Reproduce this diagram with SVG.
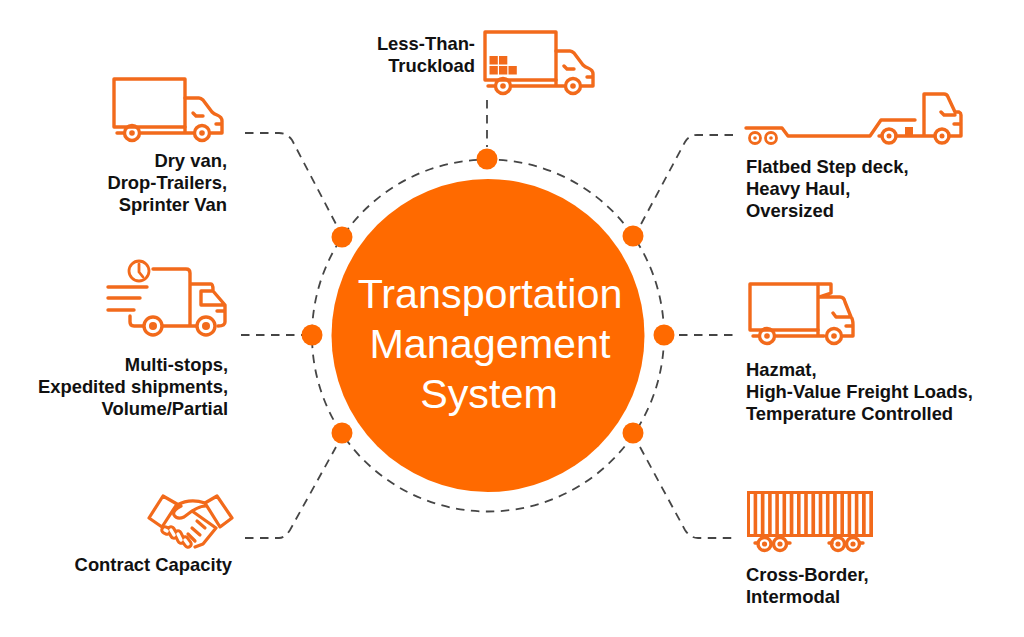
<svg xmlns="http://www.w3.org/2000/svg" xmlns:xlink="http://www.w3.org/1999/xlink" width="1024" height="637" viewBox="0 0 1024 637">
<style>
.o{fill:none;stroke:#f26a1b;stroke-width:3.400;stroke-linejoin:round;stroke-linecap:round}
.ot{fill:none;stroke:#f26a1b;stroke-width:2.800;stroke-linejoin:round;stroke-linecap:round}
.hs{fill:none;stroke:#f26a1b;stroke-width:3.200;stroke-linejoin:round;stroke-linecap:round}
.cap{fill:none;stroke:#f26a1b;stroke-width:9.500;stroke-linecap:round}
.capw{fill:none;stroke:#fff;stroke-width:3.400;stroke-linecap:round}
.f{fill:#ff6a00}
.fi{fill:#f26a1b}
.w{fill:#fff}
.d{fill:none;stroke:#454545;stroke-width:1.800;stroke-dasharray:8.500 6.500}
.t{font-family:"Liberation Sans",Arial,sans-serif;font-weight:700;font-size:18.400px;fill:#111}
.r{text-anchor:end}
.c{font-family:"Liberation Sans",Arial,sans-serif;font-size:41.300px;fill:#fff;text-anchor:middle}
</style>
<defs>
<g id="truck">
<path class="o" d="M114 79H185V127H114Z"/>
<path class="o" d="M117 133H123M141 133H193M185 127V133M185 98H199Q201 98 203 100L212 112Q214 114 217 115Q222 117 222 121V133H211M222 124H216M193 113L196 116H203"/>
<circle class="o" cx="132" cy="133" r="7.500"/><circle class="o" cx="202" cy="133" r="7.500"/>
<circle class="fi" cx="132" cy="133" r="2.800"/><circle class="fi" cx="202" cy="133" r="2.800"/>
</g>
</defs>
<rect width="1024" height="637" fill="#fff"/>
<g id="connectors">
<circle class="d" cx="488" cy="335.500" r="176"/>
<path class="d" d="M245 133H279Q287 133 292 140L337 226"/>
<path class="d" d="M487 100V147"/>
<path class="d" d="M733 135H697Q689 135 685 142L640 226"/>
<path class="d" d="M241 335H302"/>
<path class="d" d="M679 335H737"/>
<path class="d" d="M245 538H279Q285 538 290 530L336 447"/>
<path class="d" d="M640 447L685 530Q690 538 698 538H735"/>
</g>
<g id="hub">
<circle class="f" cx="488" cy="335.500" r="156.500"/>
<text class="c"><tspan x="490" y="308">Transportation</tspan><tspan x="490" y="358">Management</tspan><tspan x="489" y="408">System</tspan></text>
</g>
<g id="dots">
<circle class="f" cx="487" cy="159" r="10.500"/>
<circle class="f" cx="342" cy="237" r="10.500"/>
<circle class="f" cx="633" cy="236" r="10.500"/>
<circle class="f" cx="312" cy="335" r="10.500"/>
<circle class="f" cx="664" cy="335" r="10.500"/>
<circle class="f" cx="342" cy="433" r="10.500"/>
<circle class="f" cx="633" cy="433" r="10.500"/>
</g>
<g id="node-dry-van">
<use xlink:href="#truck" href="#truck"/>
<text class="t r"><tspan x="227" y="167">Dry van,</tspan><tspan x="227" y="189">Drop-Trailers,</tspan><tspan x="227" y="211">Sprinter Van</tspan></text>
</g>
<g id="node-ltl">
<use xlink:href="#truck" href="#truck" transform="translate(371 -47)"/>
<g class="fi"><rect x="489.500" y="56" width="8.300" height="8.500"/><rect x="499" y="56" width="8.300" height="8.500"/><rect x="489.500" y="66" width="8.300" height="8.500"/><rect x="499" y="66" width="8.300" height="8.500"/><rect x="508.500" y="66" width="8.300" height="8.500"/></g>
<text class="t r"><tspan x="475" y="50">Less-Than-</tspan><tspan x="475" y="72">Truckload</tspan></text>
</g>
<g id="node-flatbed">
<path class="o" d="M746 128H782L788 136H870L881 120H915M879 136H882M896 136H935M949 136H961V115Q961 113 959 112L955 112L948 97Q947 94 944 94H924V136M941 112L944 115H955M961 124H954"/>
<rect class="fi" x="905" y="127" width="8" height="8"/>
<circle class="ot" cx="755" cy="138" r="5.500"/><circle class="ot" cx="771" cy="138" r="5.500"/>
<circle class="fi" cx="755" cy="138" r="1.800"/><circle class="fi" cx="771" cy="138" r="1.800"/>
<circle class="o" cx="889" cy="136" r="7"/><circle class="o" cx="942" cy="136" r="7"/>
<circle class="fi" cx="889" cy="136" r="2.500"/><circle class="fi" cx="942" cy="136" r="2.500"/>
<text class="t"><tspan x="746" y="173">Flatbed Step deck,</tspan><tspan x="746" y="195">Heavy Haul,</tspan><tspan x="746" y="217">Oversized</tspan></text>
</g>
<g id="node-multi-stops">
<circle class="ot" cx="139" cy="271" r="10"/>
<path class="ot" d="M139 264V272L143 277"/>
<path class="o" d="M153 269H186Q190 269 190 273V325M190 284H211Q213 284 213 290M201 291H213L225 305V322Q225 326 218 326M201 291V305H224M108 287H147M108 298H140M108 310H134M130 316V322Q130 326 134 326H143M163 326H196M225 311H217"/>
<circle class="o" cx="153" cy="326" r="9"/><circle class="o" cx="206" cy="326" r="9"/>
<circle class="fi" cx="153" cy="326" r="4"/><circle class="fi" cx="206" cy="326" r="4"/>
<text class="t r"><tspan x="228" y="371">Multi-stops,</tspan><tspan x="228" y="393">Expedited shipments,</tspan><tspan x="228" y="415">Volume/Partial</tspan></text>
</g>
<g id="node-hazmat">
<path class="o" d="M750 284H818V330H750Z"/>
<path class="o" d="M819 284H831V293L819 297M818 330V336M804 336H824M843 336H853V325Q853 319 851 317L845 302Q844 297 840 297H819M833 313L836 317H851M853 326H846M753 336H758M776 336H806"/>
<circle class="o" cx="767" cy="336" r="7.500"/><circle class="o" cx="834" cy="336" r="7.500"/>
<circle class="fi" cx="767" cy="336" r="2.800"/><circle class="fi" cx="834" cy="336" r="2.800"/>
<text class="t"><tspan x="746" y="376">Hazmat,</tspan><tspan x="746" y="398">High-Value Freight Loads,</tspan><tspan x="746" y="420">Temperature Controlled</tspan></text>
</g>
<g id="node-contract">
<path class="hs" d="M163 496L177 504L162 527L149 518ZM217 496L205 503L220 527L232 518Z"/>
<path class="hs" d="M177 505Q190 498 205 503M181 506Q172 511 174 515Q177 520 184 517L192 511L216 528L203 544L195 547M192 511Q200 506 206 506"/>
<path class="cap" d="M165 530L167 531M171 530L174 535M178 534L181 540M185 540L188 544"/>
<path class="capw" d="M165 530L167 531M171 530L174 535M178 534L181 540M185 540L188 544"/>
<path class="hs" d="M197 521L205 528M192 528L200 535M188 534L195 541"/>
<text class="t r"><tspan x="232" y="571">Contract Capacity</tspan></text>
</g>
<g id="node-cross-border">
<rect class="fi" x="747" y="491" width="126" height="46"/>
<g class="w"><rect x="750" y="494" width="3.600" height="40"/><rect x="757.200" y="494" width="3.600" height="40"/><rect x="764.500" y="494" width="3.600" height="40"/><rect x="771.700" y="494" width="3.600" height="40"/><rect x="778.900" y="494" width="3.600" height="40"/><rect x="786.100" y="494" width="3.600" height="40"/><rect x="793.400" y="494" width="3.600" height="40"/><rect x="800.600" y="494" width="3.600" height="40"/><rect x="807.800" y="494" width="3.600" height="40"/><rect x="815.100" y="494" width="3.600" height="40"/><rect x="822.300" y="494" width="3.600" height="40"/><rect x="829.500" y="494" width="3.600" height="40"/><rect x="836.800" y="494" width="3.600" height="40"/><rect x="844" y="494" width="3.600" height="40"/><rect x="851.200" y="494" width="3.600" height="40"/><rect x="858.400" y="494" width="3.600" height="40"/><rect x="865.700" y="494" width="3.600" height="40"/></g>
<path class="o" d="M755 543H758M787 543H790M829 543H832M860 543H863"/>
<circle class="o" cx="764.500" cy="544" r="6.500" fill="#fff"/><circle class="o" cx="780" cy="544" r="6.500" fill="#fff"/><circle class="o" cx="838" cy="544" r="6.500" fill="#fff"/><circle class="o" cx="853" cy="544" r="6.500" fill="#fff"/>
<circle class="fi" cx="764.500" cy="544" r="2.600"/><circle class="fi" cx="780" cy="544" r="2.600"/><circle class="fi" cx="838" cy="544" r="2.600"/><circle class="fi" cx="853" cy="544" r="2.600"/>
<text class="t"><tspan x="746" y="581">Cross-Border,</tspan><tspan x="746" y="603">Intermodal</tspan></text>
</g>
</svg>
